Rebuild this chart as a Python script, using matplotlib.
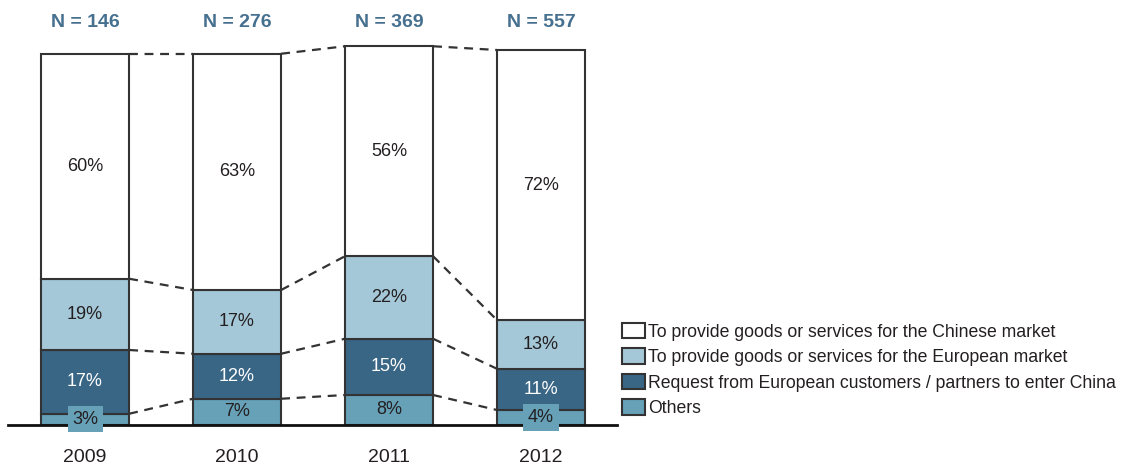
import matplotlib.pyplot as plt
from matplotlib.patches import Patch

plt.rcParams["font.family"] = ["Liberation Sans", "DejaVu Sans"]

# ── Data ─────────────────────────────────────────────────────────────────────
years       = ["2009", "2010", "2011", "2012"]
sample_n    = [146, 276, 369, 557]
others      = [3, 7, 8, 4]
request     = [17, 12, 15, 11]
european    = [19, 17, 22, 13]
chinese     = [60, 63, 56, 72]

series_labels = [
    "To provide goods or services for the Chinese market",
    "To provide goods or services for the European market",
    "Request from European customers / partners to enter China",
    "Others",
]

# ── Style ────────────────────────────────────────────────────────────────────
WHITE, LIGHT, DARK, MID = "#ffffff", "#a5c8d8", "#3a6686", "#66a1b8"
EDGE = "#333333"
N_COLOR = "#46708f"
TXT = "#231f20"
BAR_W = 0.58

fig = plt.figure(figsize=(11.28, 4.66), dpi=100, facecolor="white")
ax = fig.add_axes([8 / 1128, 41 / 466, 609 / 1128, 393.75 / 466])
ax.set_xlim(-0.507, 3.5)
ax.set_ylim(0, 105)
ax.axis("off")

x = list(range(len(years)))
stack = [(others, MID, TXT), (request, DARK, "white"),
         (european, LIGHT, TXT), (chinese, WHITE, TXT)]

bottoms = [0] * len(years)
tops_per_layer = []
for vals, color, tcol in stack:
    ax.bar(x, vals, width=BAR_W, bottom=bottoms, color=color,
           edgecolor=EDGE, linewidth=1.5, zorder=2)
    for i, v in enumerate(vals):
        yc = bottoms[i] + v / 2
        kw = {}
        if v < 5:
            # small segments get a filled tag so the label stays readable
            kw["bbox"] = dict(boxstyle="square,pad=0.25", facecolor=color,
                              edgecolor="none")
        ax.text(x[i], yc, f"{v}%", ha="center", va="center",
                fontsize=13, color=tcol, zorder=4, **kw)
    bottoms = [b + v for b, v in zip(bottoms, vals)]
    tops_per_layer.append(list(bottoms))

# dashed connectors between neighbouring bars at each boundary
for tops in tops_per_layer:
    for i in range(len(years) - 1):
        ax.plot([x[i] + BAR_W / 2, x[i + 1] - BAR_W / 2],
                [tops[i], tops[i + 1]], color=EDGE, linestyle=(0, (4, 3)),
                linewidth=1.6, zorder=1)

# baseline
ax.plot([-0.507, 3.5], [0, 0], color="#111111", linewidth=2,
        clip_on=False, zorder=3)

for i in x:
    ax.text(x[i], 107.2, f"N = {sample_n[i]}", ha="center", va="center",
            fontsize=14, fontweight="bold", color=N_COLOR, clip_on=False)
    ax.text(x[i], -8.8, years[i], ha="center", va="center",
            fontsize=14, color=TXT, clip_on=False)

handles = [Patch(facecolor=c, edgecolor=EDGE, linewidth=1.5)
           for c in (WHITE, LIGHT, DARK, MID)]
fig.legend(handles, series_labels, loc="upper left",
           bbox_to_anchor=(622 / 1128, 1 - 323 / 466), frameon=False,
           fontsize=12.7, handlelength=1.3, handleheight=0.95,
           handletextpad=0.2, labelspacing=0.44, borderpad=0,
           borderaxespad=0, labelcolor=TXT)

plt.savefig("out.png", dpi=100, facecolor="white")
plt.close()
